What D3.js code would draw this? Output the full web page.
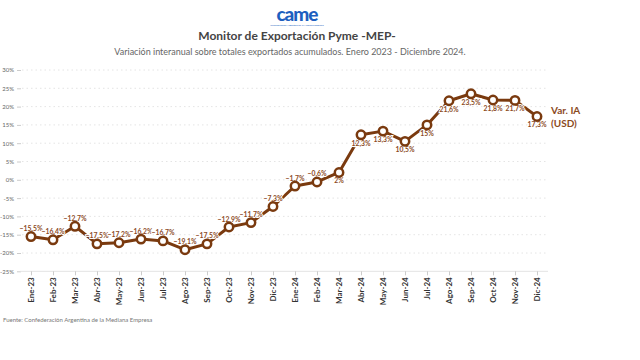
<!DOCTYPE html>
<html><head><meta charset="utf-8">
<script src="https://cdn.jsdelivr.net/npm/d3@7"></script>
<style>body{margin:0;background:#fff;} svg{display:block;font-family:Lato,"Open Sans",sans-serif;}</style>
</head><body>
<svg id="c" width="640" height="360"></svg>
<script>
const months = ["Ene-23","Feb-23","Mar-23","Abr-23","May-23","Jun-23","Jul-23","Ago-23","Sep-23","Oct-23","Nov-23","Dic-23",
                "Ene-24","Feb-24","Mar-24","Abr-24","May-24","Jun-24","Jul-24","Ago-24","Sep-24","Oct-24","Nov-24","Dic-24"];
const values = [-15.5,-16.4,-12.7,-17.5,-17.2,-16.2,-16.7,-19.1,-17.5,-12.9,-11.7,-7.3,
                -1.7,-0.6,2,12.3,13.3,10.5,15,21.6,23.5,21.8,21.7,17.3];
const yTicks = [30,25,20,15,10,5,0,-5,-10,-15,-20,-25];
const seriesName = ["Var. IA","(USD)"];

const svg = d3.select("#c");
const brown = "#7a3a0f";
const x = d3.scalePoint().domain(months).range([20,548]).padding(0.5);
const y = d3.scaleLinear().domain([-25,30]).range([271.3,70]);
const loc = d3.formatLocale({decimal:",",thousands:".",grouping:[3],currency:["$",""]});
const fmt = v => loc.format("~r")(v) + "%";

// header
svg.append("text").attr("x",297).attr("y",21).attr("text-anchor","middle")
  .attr("font-size",19).attr("font-weight",900).attr("fill","#1d5fbf").attr("letter-spacing",-1).text("came");
svg.append("text").attr("x",297).attr("y",26).attr("text-anchor","middle")
  .attr("font-size",2.5).attr("fill","#1d5fbf").text("Confederación Argentina de la Mediana Empresa");
svg.append("text").attr("x",297).attr("y",40).attr("text-anchor","middle")
  .attr("font-size",12).attr("font-weight",700).attr("fill","#444").text("Monitor de Exportación Pyme -MEP-");
svg.append("text").attr("x",290).attr("y",55).attr("text-anchor","middle")
  .attr("font-size",9).attr("fill","#666").text("Variación interanual sobre totales exportados acumulados. Enero 2023 - Diciembre 2024.");

// grid
svg.append("g").selectAll("line").data(yTicks.filter(d=>d!==-25)).join("line")
  .attr("x1",22).attr("x2",548).attr("y1",d=>y(d)).attr("y2",d=>y(d))
  .attr("stroke","#ddd").attr("stroke-width",0.8).attr("stroke-dasharray","1.5,3");

// y axis
const ya = svg.append("g").attr("transform","translate(21,0)")
  .call(d3.axisLeft(y).tickValues(yTicks).tickFormat(d=>d+"%").tickSize(4).tickPadding(3));
ya.select(".domain").remove();
ya.selectAll("line").attr("stroke","#ccc");
ya.selectAll("text").attr("font-size",6).attr("fill","#666").attr("font-family","Lato,sans-serif");

// x axis
const xa = svg.append("g").attr("transform",`translate(0,${y(-25)})`)
  .call(d3.axisBottom(x).tickSize(4).tickPadding(3).tickSizeOuter(0));
xa.select(".domain").attr("stroke","#e3e3e3").attr("d","M20,0H548");
xa.selectAll("line").attr("stroke","#ccc");
xa.selectAll("text").attr("font-size",8).attr("font-weight",700).attr("fill","#333")
  .attr("font-family","Lato,sans-serif")
  .attr("transform","rotate(-90)").attr("text-anchor","end")
  .attr("dominant-baseline","middle").attr("dy",null).attr("y",0).attr("x",-6);

// line
const line = d3.line().x((d,i)=>x(months[i])).y(d=>y(d));
svg.append("path").datum(values).attr("d",line).attr("fill","none")
  .attr("stroke",brown).attr("stroke-width",3).attr("stroke-linejoin","round");

// labels
svg.append("g").selectAll("text").data(values).join("text")
  .attr("x",(d,i)=>x(months[i]))
  .attr("y",(d,i)=> i>=14 ? y(d)+11 : y(d)-5.5)
  .attr("text-anchor","middle").attr("font-size",6.8).attr("font-weight",700)
  .attr("fill","#8b4a1e").attr("stroke","#fff").attr("stroke-width",2).attr("paint-order","stroke")
  .text(d=>fmt(d));

// points
svg.append("g").selectAll("circle").data(values).join("circle")
  .attr("cx",(d,i)=>x(months[i])).attr("cy",d=>y(d)).attr("r",4.2)
  .attr("fill","#fff").attr("stroke",brown).attr("stroke-width",2.5);

// series label
svg.append("text").attr("x",551).attr("y",114).attr("font-size",10).attr("font-weight",700)
  .attr("fill","#8b4a1e").selectAll("tspan").data(seriesName).join("tspan")
  .attr("x",551).attr("dy",(d,i)=>i?13:0).text(d=>d);

// source
svg.append("text").attr("x",3).attr("y",322).attr("font-size",6).attr("fill","#777")
  .text("Fuente: Confederación Argentina de la Mediana Empresa");
</script>
</body></html>
